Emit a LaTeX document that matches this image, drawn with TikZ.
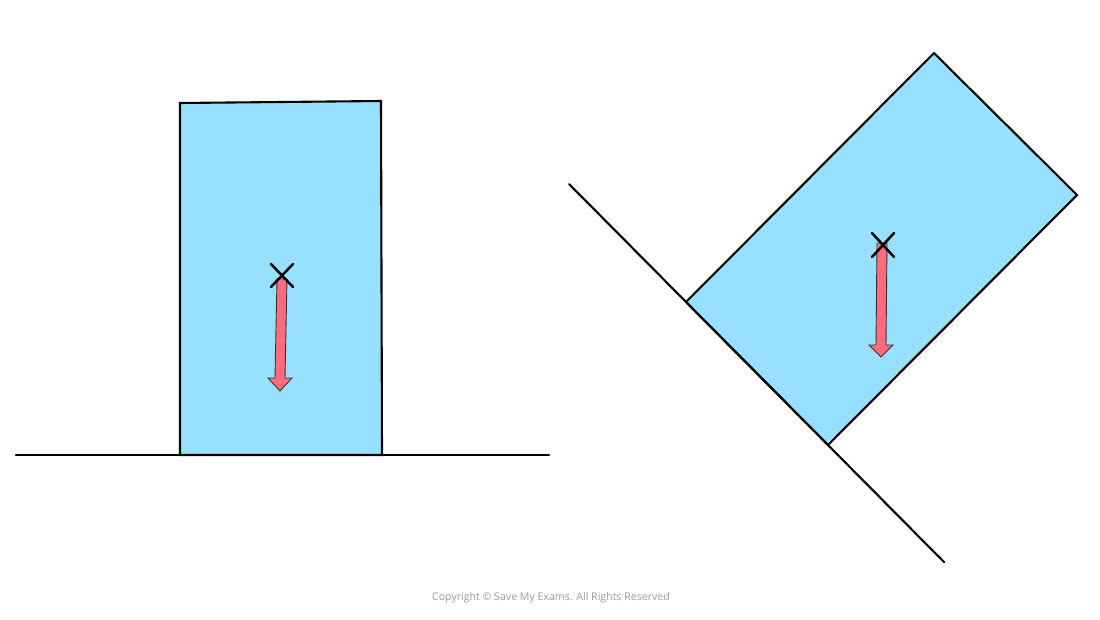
\documentclass[tikz,border=0pt]{standalone}
\usepackage{fontspec}
\setmainfont{Open Sans}
\definecolor{blockblue}{RGB}{152,224,255}
\definecolor{arrowred}{RGB}{255,107,122}
\definecolor{copygray}{RGB}{155,155,155}
\tikzset{
  surface/.style={line width=2.1pt, draw=black, line cap=round},
  blockshape/.style={line width=2.1pt, draw=black, fill=blockblue, line join=miter},
  forcearrow/.style={line width=0.9pt, draw=black!80, fill=arrowred, line join=miter},
  cogmark/.style={line width=2.5pt, draw=black, line cap=round},
}
\begin{document}
\begin{tikzpicture}[x=1pt,y=-1pt]
\useasboundingbox (0,0) rectangle (1100,619);
% left scene
\draw[blockshape] (180,455) -- (180,103) -- (381,101) -- (382,455) -- cycle;
\draw[surface] (16,455) -- (549,455);
\draw[forcearrow] (277,279) -- (287,279) -- (285,378) -- (292,378) -- (280,391) -- (268,378) -- (275,378) -- cycle;
\draw[cogmark] (271,264) -- (293,287);
\draw[cogmark] (293,264) -- (271,287);
% right scene
\draw[blockshape] (686,302) -- (934,53) -- (1077,195) -- (828,445) -- cycle;
\draw[surface] (569,184) -- (944,562);
\draw[forcearrow] (877,243) -- (887,243) -- (886,345) -- (893,345) -- (881,357) -- (869,345) -- (876,345) -- cycle;
\draw[cogmark] (872,233) -- (894,257);
\draw[cogmark] (894,233) -- (872,257);
% copyright
\node[text=copygray, font=\fontsize{10.6}{12}\selectfont] (copy) at (551,598) {Copyright © Save My Exams. All Rights Reserved};
\end{tikzpicture}
\end{document}
